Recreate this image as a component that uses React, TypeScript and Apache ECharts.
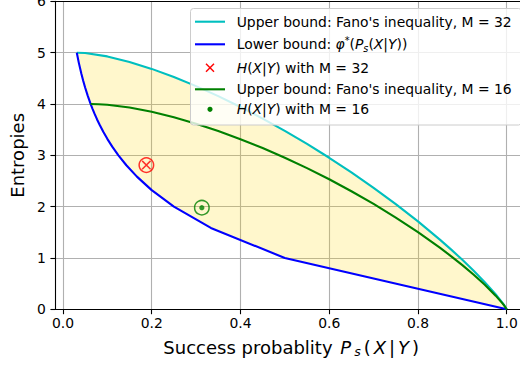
import React, { useEffect, useRef } from 'react';
import * as echarts from 'echarts';

// Ticks
const xTickValues = [0, 0.2, 0.4, 0.6, 0.8, 1.0];
const yTickMax = 6;

// Upper bound, Fano's inequality, M = 32
const fanoX32 = [0.03125, 0.05, 0.1, 0.15, 0.2, 0.25, 0.3, 0.35, 0.4, 0.45, 0.5, 0.55, 0.6, 0.65, 0.7, 0.75, 0.8, 0.85, 0.875, 0.9, 0.925, 0.95, 0.975, 0.99, 0.995, 1.0];
const fanoY32 = [5.0, 4.993, 4.928, 4.821, 4.685, 4.527, 4.349, 4.154, 3.943, 3.717, 3.477, 3.222, 2.953, 2.668, 2.367, 2.05, 1.713, 1.353, 1.163, 0.964, 0.756, 0.534, 0.293, 0.13, 0.07, 0.0];

// Upper bound, Fano's inequality, M = 16
const fanoX16 = [0.0625, 0.08, 0.1, 0.15, 0.2, 0.25, 0.3, 0.35, 0.4, 0.45, 0.5, 0.55, 0.6, 0.65, 0.7, 0.75, 0.8, 0.85, 0.875, 0.9, 0.925, 0.95, 0.975, 0.99, 0.995, 1.0];
const fanoY16 = [4.0, 3.997, 3.985, 3.931, 3.848, 3.741, 3.616, 3.474, 3.315, 3.142, 2.954, 2.751, 2.534, 2.301, 2.053, 1.788, 1.503, 1.196, 1.032, 0.86, 0.677, 0.482, 0.266, 0.12, 0.065, 0.0];

// Lower bound phi*(Ps)
const lowerX = [0.03125, 0.0357, 0.0417, 0.0455, 0.05, 0.0556, 0.0625, 0.0667, 0.0714, 0.0769, 0.0833, 0.0909, 0.1, 0.1111, 0.125, 0.1429, 0.1667, 0.2, 0.25, 0.3333, 0.5, 1.0];
const lowerY = [5.0, 4.807, 4.585, 4.459, 4.322, 4.17, 4.0, 3.907, 3.807, 3.7, 3.585, 3.459, 3.322, 3.17, 3.0, 2.807, 2.585, 2.322, 2.0, 1.585, 1.0, 0.0];

// Measured H(X|Y) points
const point32 = [0.188, 2.81];
const point16 = [0.313, 1.98];

const FONT = 'DejaVu Sans';

const zip = (xs: number[], ys: number[]) => xs.map((x, i) => [x, ys[i]]);

export default function App() {
  const ref = useRef<HTMLDivElement>(null);
  useEffect(() => {
    const chart = echarts.init(ref.current!, null, { renderer: 'svg' });

    const upper32 = zip(fanoX32, fanoY32);
    const upper16 = zip(fanoX16, fanoY16);
    const lower = zip(lowerX, lowerY);

    const lgFs = 13.9;
    const lgRich = {
      n: { fontFamily: FONT, fontSize: lgFs, fill: '#000', lineHeight: 18 },
      i: { fontFamily: FONT, fontSize: lgFs, fontStyle: 'italic', fill: '#000', lineHeight: 18 },
      sub: { fontFamily: FONT, fontSize: 9.7, fontStyle: 'italic', fill: '#000', lineHeight: 8, verticalAlign: 'bottom' },
      sup: { fontFamily: FONT, fontSize: 9.7, fill: '#000', lineHeight: 8, verticalAlign: 'top' },
    };
    const lgText = (y: number, text: string) => ({
      type: 'text',
      z: 101,
      style: {
        x: 236.7,
        y,
        text,
        rich: lgRich,
        fontFamily: FONT,
        fontSize: lgFs,
        fill: '#000',
        align: 'left',
        verticalAlign: 'middle',
      },
    });
    const lgLine = (y: number, color: string) => ({
      type: 'line',
      z: 101,
      shape: { x1: 195, y1: y, x2: 225, y2: y },
      style: { stroke: color, lineWidth: 2.1 },
    });

    const axisRich = {
      n: { fontFamily: FONT, fontSize: 18, color: '#000', lineHeight: 22 },
      m: { fontFamily: FONT, fontSize: 18, color: '#000', lineHeight: 22, padding: [0, 1, 0, 1] },
      i: { fontFamily: FONT, fontSize: 18, fontStyle: 'italic', color: '#000', lineHeight: 22, padding: [0, 2, 0, 2] },
      sub: { fontFamily: FONT, fontSize: 12.6, fontStyle: 'italic', color: '#000', lineHeight: 10, verticalAlign: 'bottom', padding: [0, 2, 0, 1] },
    };

    const option: any = {
      animation: false,
      backgroundColor: '#ffffff',
      grid: {
        left: 55.3,
        right: -8.2,
        top: 1.4,
        bottom: 57.7,
        containLabel: false,
        outerBoundsMode: 'none',
      },
      xAxis: [
        {
          type: 'value',
          min: -0.0172,
          max: 1.0484,
          name: '{n|Success probablity }{i|P}{sub|s}{m|(}{i|X}{m||}{i|Y}{m|)}',
          nameLocation: 'middle',
          nameGap: 27,
          nameTextStyle: { fontFamily: FONT, fontSize: 18, color: '#000', rich: axisRich },
          axisLine: { show: true, onZero: false, lineStyle: { color: '#000', width: 1.1 } },
          axisTick: { show: true, length: 4.9, customValues: xTickValues, lineStyle: { color: '#000', width: 1.1 } },
          axisLabel: {
            customValues: xTickValues,
            formatter: (v: number) => v.toFixed(1),
            fontFamily: FONT,
            fontSize: 13.9,
            color: '#000',
            margin: 7,
          },
          splitLine: { show: true, lineStyle: { color: '#b0b0b0', width: 1.1 } },
        },
        {
          type: 'value',
          position: 'top',
          min: -0.0172,
          max: 1.0484,
          axisLine: { show: true, onZero: false, lineStyle: { color: '#000', width: 1.1 } },
          axisTick: { show: false },
          axisLabel: { show: false },
          splitLine: { show: false },
        },
      ],
      yAxis: {
        type: 'value',
        min: 0,
        max: yTickMax,
        interval: 1,
        name: 'Entropies',
        nameLocation: 'middle',
        nameGap: 28,
        nameTextStyle: { fontFamily: FONT, fontSize: 18, color: '#000' },
        axisLine: { show: true, onZero: false, lineStyle: { color: '#000', width: 1.1 } },
        axisTick: { show: true, length: 4.9, lineStyle: { color: '#000', width: 1.1 } },
        axisLabel: { fontFamily: FONT, fontSize: 13.9, color: '#000', margin: 9.5 },
        splitLine: { show: true, lineStyle: { color: '#b0b0b0', width: 1.1 } },
      },
      graphic: [
        {
          type: 'rect',
          z: 100,
          shape: { x: 190.5, y: 8.5, width: 331, height: 116.5, r: 3 },
          style: { fill: 'rgba(255,255,255,0.8)', stroke: '#cccccc', lineWidth: 1 },
        },
        lgLine(21.7, '#00bfbf'),
        lgText(21.7, "{n|Upper bound: Fano's inequality, M = 32}"),
        lgLine(44.3, '#0000ff'),
        lgText(44.3, '{n|Lower bound: }{i|φ}{sup|*}{n|(}{i|P}{sub|s}{n|(}{i|X}{n||}{i|Y}{n|))}'),
        {
          type: 'line', z: 101,
          shape: { x1: 206, y1: 63.7, x2: 214, y2: 71.7 },
          style: { stroke: '#ff0000', lineWidth: 1.5 },
        },
        {
          type: 'line', z: 101,
          shape: { x1: 206, y1: 71.7, x2: 214, y2: 63.7 },
          style: { stroke: '#ff0000', lineWidth: 1.5 },
        },
        lgText(67.7, '{i|H}{n|(}{i|X}{n||}{i|Y}{n|) with M = 32}'),
        lgLine(89.3, '#008000'),
        lgText(89.3, "{n|Upper bound: Fano's inequality, M = 16}"),
        {
          type: 'circle', z: 101,
          shape: { cx: 210, cy: 109.3, r: 2.6 },
          style: { fill: '#008000' },
        },
        lgText(109.3, '{i|H}{n|(}{i|X}{n||}{i|Y}{n|) with M = 16}'),
      ],
      series: [
        {
          type: 'custom',
          name: 'fill',
          z: 1,
          data: [[0, 0]],
          renderItem: (params: any, api: any) => {
            const pts = upper32.map((p) => api.coord(p)).concat(lower.slice().reverse().map((p) => api.coord(p)));
            return {
              type: 'polygon',
              shape: { points: pts },
              style: { fill: 'rgba(255,215,0,0.2)', stroke: 'none' },
            };
          },
          silent: true,
        },
        {
          type: 'line',
          name: "Upper bound: Fano's inequality, M = 32",
          data: upper32,
          showSymbol: false,
          z: 3,
          lineStyle: { color: '#00bfbf', width: 2.1 },
          itemStyle: { color: '#00bfbf' },
        },
        {
          type: 'line',
          name: 'Lower bound',
          data: lower,
          showSymbol: false,
          z: 3,
          lineStyle: { color: '#0000ff', width: 2.1 },
          itemStyle: { color: '#0000ff' },
        },
        {
          type: 'scatter',
          name: 'H32 circle',
          data: [point32],
          symbol: 'circle',
          symbolSize: 14.5,
          z: 4,
          itemStyle: { color: 'rgba(0,0,0,0)', borderColor: '#ff0000', borderWidth: 1.5 },
        },
        {
          type: 'scatter',
          name: 'H(X|Y) with M = 32',
          data: [point32],
          symbol: 'path://M0 0L10 10M10 0L0 10',
          symbolSize: 8.4,
          z: 4,
          itemStyle: { color: 'rgba(0,0,0,0)', borderColor: '#ff0000', borderWidth: 1.5 },
        },
        {
          type: 'line',
          name: "Upper bound: Fano's inequality, M = 16",
          data: upper16,
          showSymbol: false,
          z: 3,
          lineStyle: { color: '#008000', width: 2.1 },
          itemStyle: { color: '#008000' },
        },
        {
          type: 'scatter',
          name: 'H16 circle',
          data: [point16],
          symbol: 'circle',
          symbolSize: 14.5,
          z: 4,
          itemStyle: { color: 'rgba(0,0,0,0)', borderColor: '#008000', borderWidth: 1.5 },
        },
        {
          type: 'scatter',
          name: 'H(X|Y) with M = 16',
          data: [point16],
          symbol: 'circle',
          symbolSize: 5.2,
          z: 4,
          itemStyle: { color: '#008000' },
        },
      ],
    };

    chart.setOption(option);
    return () => chart.dispose();
  }, []);

  return <div ref={ref} style={{ position: 'fixed', left: 0, top: 0, width: 520, height: 367 }} />;
}
